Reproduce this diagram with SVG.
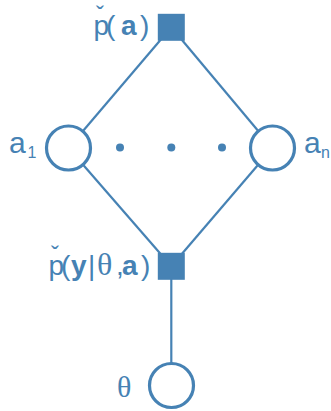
<svg xmlns="http://www.w3.org/2000/svg" width="331" height="411" viewBox="0 0 331 411">
  <style>
    .edge { stroke: #4682b4; stroke-width: 2.2; fill: none; }
    .var { fill: #ffffff; stroke: #4682b4; stroke-width: 3.2; }
    .factor { fill: #4682b4; }
    .dot { fill: #4682b4; }
    .lbl { font-family: "Liberation Sans", Arial, sans-serif; font-size: 28px; fill: #4682b4; }
    .sub { font-family: "Liberation Sans", Arial, sans-serif; font-size: 16px; fill: #4682b4; }
    .greek { font-family: "Liberation Serif", "Times New Roman", serif; fill: #4682b4; }
    .caron { font-family: "Liberation Sans", Arial, sans-serif; font-size: 24px; fill: #4682b4; }
    .b { font-weight: bold; }
  </style>
  <rect width="331" height="411" fill="#ffffff"/>

  <!-- connectors -->
  <g id="connectors">
    <line class="edge" x1="171.3" y1="27.3" x2="68.5" y2="148"/>
    <line class="edge" x1="171.3" y1="27.3" x2="272.5" y2="148"/>
    <line class="edge" x1="68.5" y1="148" x2="171.3" y2="266.3"/>
    <line class="edge" x1="272.5" y1="148" x2="171.3" y2="266.3"/>
    <line class="edge" x1="171.3" y1="266.3" x2="171.3" y2="385.5"/>
  </g>

  <!-- prior factor -->
  <g id="factor-prior">
    <rect class="factor" x="157.8" y="13.8" width="27" height="27"/>
    <text class="caron" x="100" y="22.5" text-anchor="middle">ˇ</text>
    <text class="lbl" y="35"><tspan x="93.5">p</tspan><tspan x="106">(</tspan><tspan x="121" class="b">a</tspan><tspan x="140">)</tspan></text>
  </g>

  <!-- variable a1 -->
  <g id="var-a1">
    <circle class="var" cx="68.5" cy="148" r="22"/>
    <text class="lbl" x="9" y="153" style="font-size:30px">a</text>
    <text class="sub" x="27.5" y="158">1</text>
  </g>

  <!-- ellipsis between a1 and an -->
  <g id="ellipsis">
    <circle class="dot" cx="120" cy="147.5" r="4"/>
    <circle class="dot" cx="171.3" cy="147.5" r="4"/>
    <circle class="dot" cx="222" cy="147.5" r="4"/>
  </g>

  <!-- variable an -->
  <g id="var-an">
    <circle class="var" cx="272.5" cy="148" r="22"/>
    <text class="lbl" x="304" y="153" style="font-size:30px">a</text>
    <text class="sub" x="321" y="158">n</text>
  </g>

  <!-- likelihood factor -->
  <g id="factor-likelihood">
    <rect class="factor" x="157.8" y="252.8" width="27" height="27"/>
    <text class="caron" x="55" y="262.5" text-anchor="middle">ˇ</text>
    <text class="lbl" y="275"><tspan x="48.5">p</tspan><tspan x="61">(</tspan><tspan x="71" class="b">y</tspan><tspan x="88">|</tspan><tspan x="97" class="greek" style="font-size:32px">θ</tspan><tspan x="116">,</tspan><tspan x="122" class="b">a</tspan><tspan x="141">)</tspan></text>
  </g>

  <!-- variable theta -->
  <g id="var-theta">
    <circle class="var" cx="171.5" cy="385.5" r="22"/>
    <text class="greek" x="117" y="397" style="font-size:30px">θ</text>
  </g>
</svg>
